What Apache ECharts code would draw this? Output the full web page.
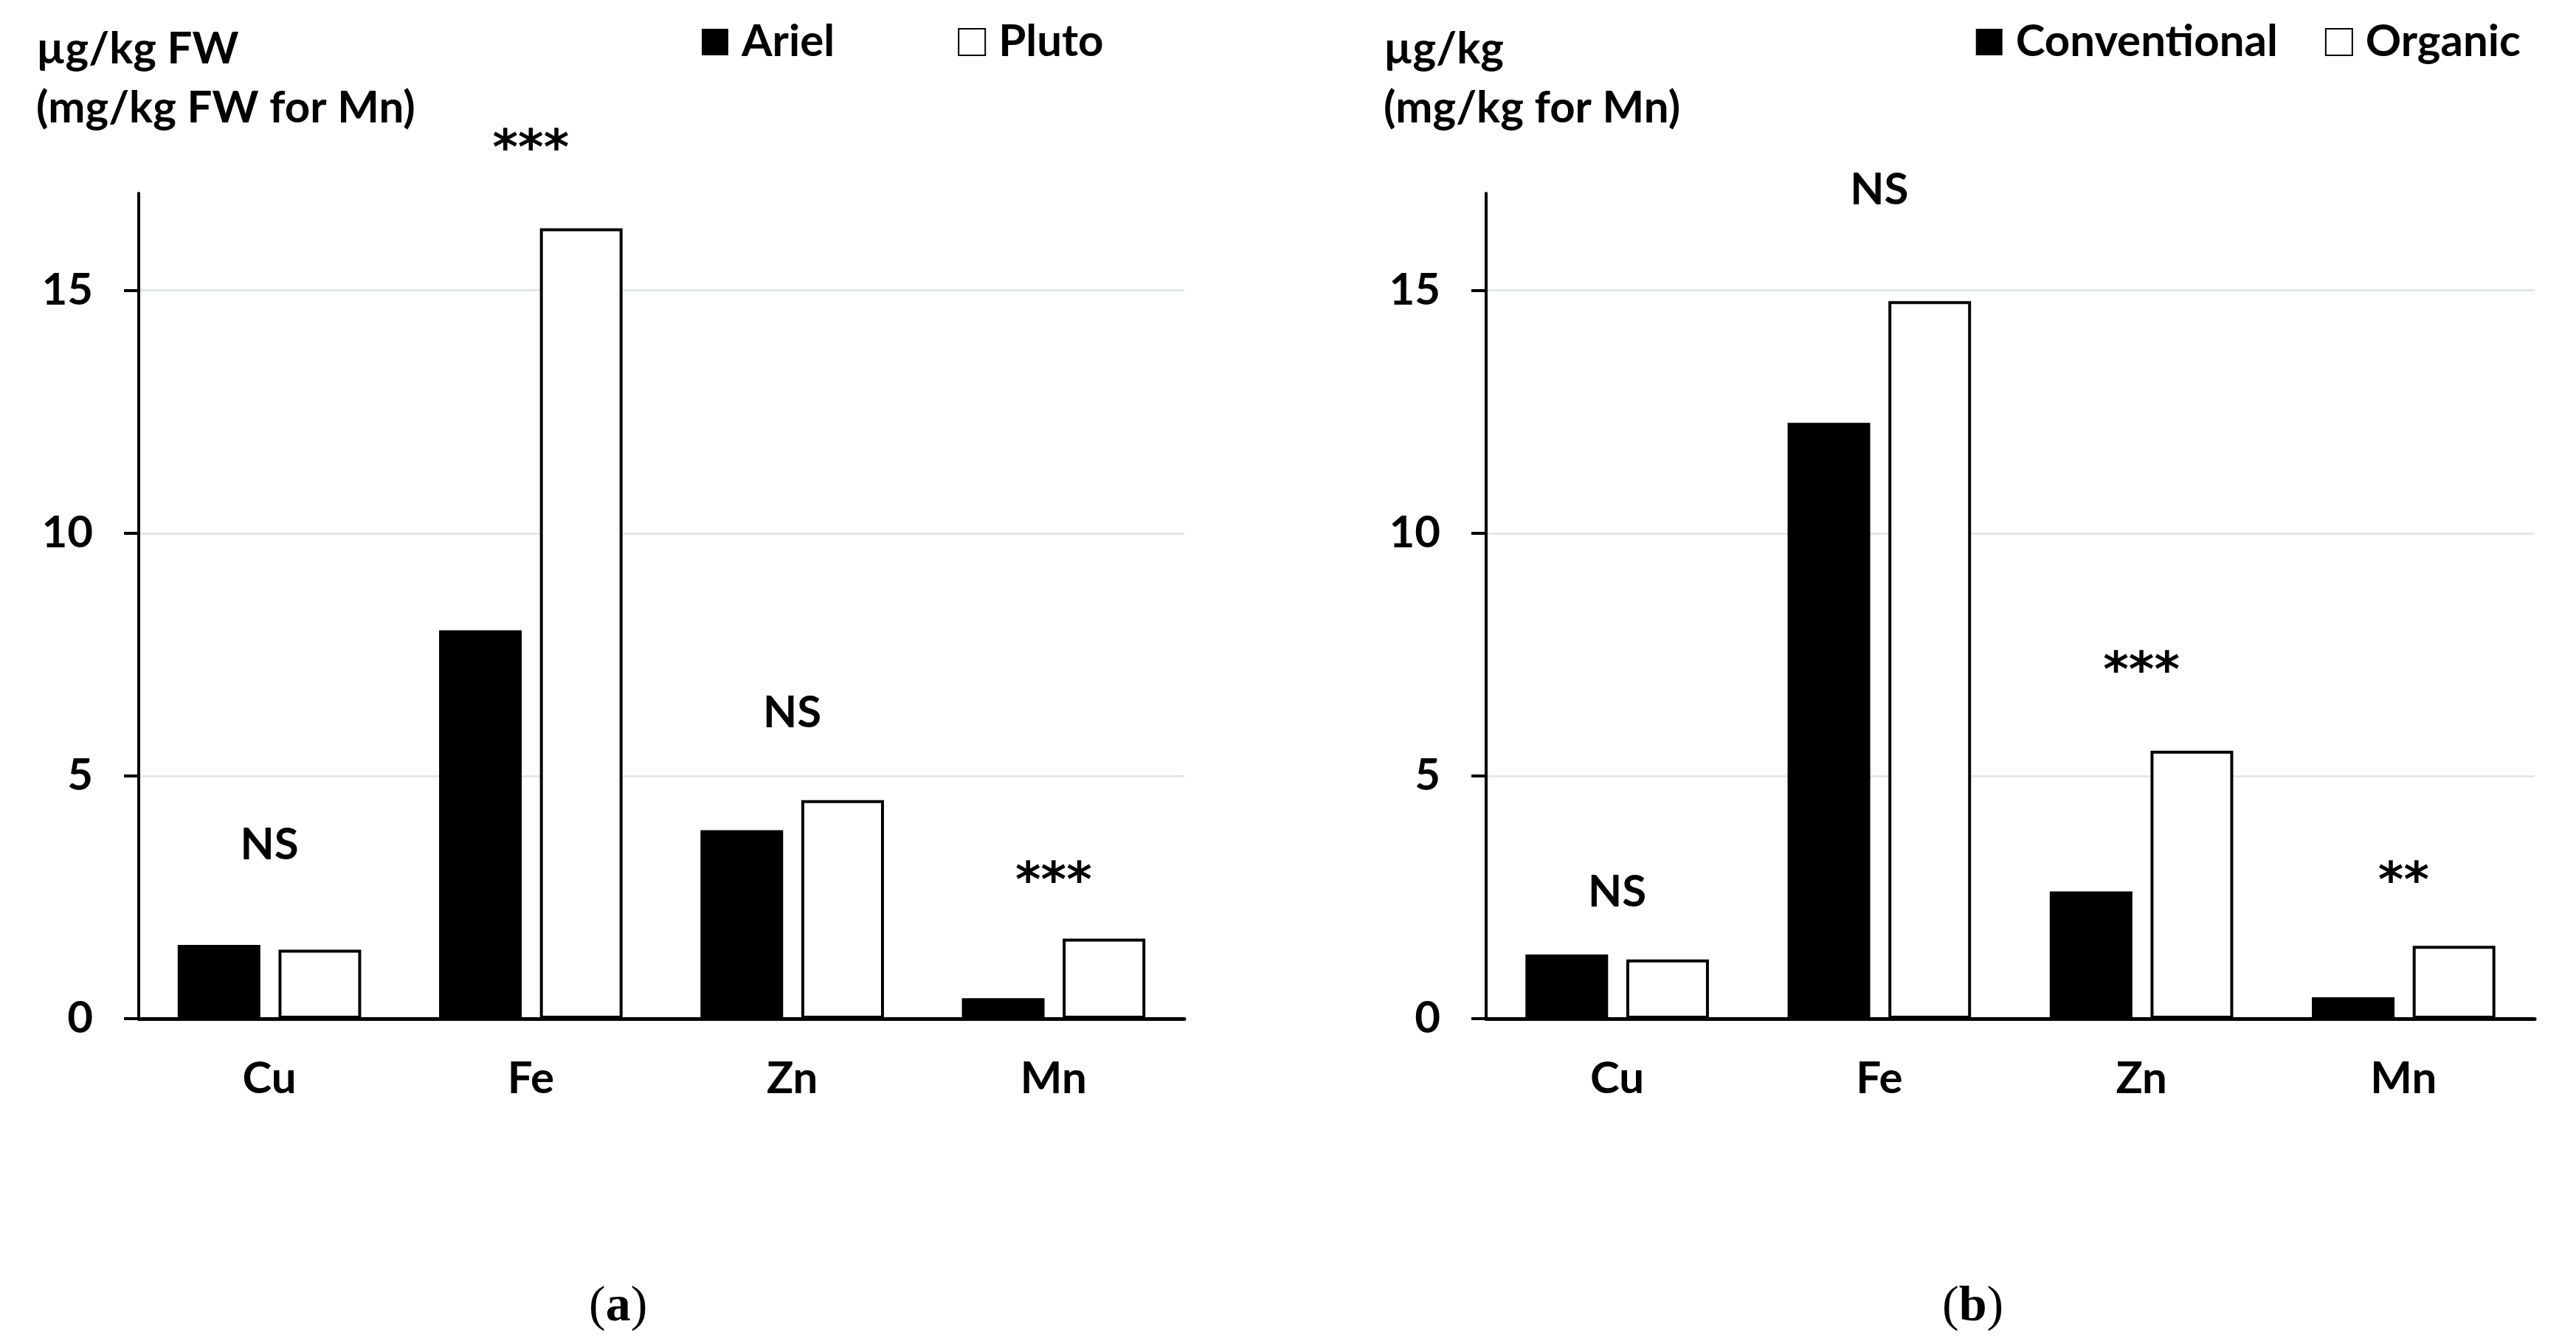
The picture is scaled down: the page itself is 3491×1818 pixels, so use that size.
<!DOCTYPE html>
<html>
<head>
<meta charset="utf-8">
<script src="https://cdn.jsdelivr.net/npm/echarts@6/dist/echarts.min.js"></script>
<style>
  html, body { margin: 0; padding: 0; background: #fff; }
  #chart { width: 3491px; height: 1818px; }
</style>
</head>
<body>
<div id="chart"></div>
<script>
// data
const elements = ['Cu', 'Fe', 'Zn', 'Mn'];
const yTicks = [0, 5, 10, 15];

// panel (a): cultivars
const ariel = [1.52, 8.0, 3.88, 0.42];
const pluto = [1.42, 16.28, 4.5, 1.65];
const sigA = ['NS', '***', 'NS', '***'];
const sigLevelA = [3.58, 17.7, 6.3, 2.62];

// panel (b): farming system
const conventional = [1.32, 12.27, 2.62, 0.44];
const organic = [1.22, 14.78, 5.52, 1.5];
const sigB = ['NS', 'NS', '***', '**'];
const sigLevelB = [2.6, 17.06, 6.95, 2.62];

const FONT = 'Lato, Carlito, Calibri, sans-serif';
const FS = 60;
const chart = echarts.init(document.getElementById('chart'));

const grids = [
  { left: 188, right: 3491 - 1605, top: 262, bottom: 1818 - 1381 },
  { left: 2014, right: 3491 - 3435, top: 262, bottom: 1818 - 1381 }
];

const makeX = (gi) => ({
  type: 'category',
  gridIndex: gi,
  data: elements,
  axisLine: { lineStyle: { color: '#000', width: 5 } },
  axisTick: { show: false },
  axisLabel: { color: '#000', fontSize: FS, fontWeight: 'bold', fontFamily: FONT, margin: 52 }
});

const makeY = (gi) => ({
  type: 'value',
  gridIndex: gi,
  min: 0,
  max: 17,
  interval: 5,
  axisLine: { show: true, lineStyle: { color: '#000', width: 4 } },
  axisTick: { show: true, length: 20, customValues: yTicks, lineStyle: { color: '#000', width: 4 } },
  axisLabel: { color: '#000', fontSize: FS, fontWeight: 'bold', fontFamily: FONT, margin: 62, customValues: yTicks },
  splitLine: { show: true, lineStyle: { color: ['#e4e6ec', '#e4e6ec', '#e4e6ec', '#e4e6ec', 'rgba(0,0,0,0)'], width: 3 } }
});

const darkBar = (name, data, gi) => ({
  name: name, type: 'bar', data: data,
  xAxisIndex: gi, yAxisIndex: gi,
  barWidth: 112, barGap: '22%',
  itemStyle: { color: '#000' }
});

const lightBar = (name, data, gi) => ({
  name: name, type: 'bar', data: data,
  xAxisIndex: gi, yAxisIndex: gi,
  barWidth: 112, barGap: '22%',
  itemStyle: { color: '#fff', borderColor: '#000', borderWidth: 4 }
});

const sigSeries = (labels, levels, gi) => ({
  type: 'scatter',
  xAxisIndex: gi, yAxisIndex: gi,
  symbolSize: 0,
  clip: false,
  silent: true,
  itemStyle: { opacity: 1 },
  data: levels.map((v, i) => [elements[i], v]),
  label: {
    show: true,
    position: 'inside',
    opacity: 1,
    formatter: (p) => {
      const s = labels[p.dataIndex];
      return s.indexOf('*') >= 0 ? '{star|' + s + '}' : s;
    },
    color: '#000',
    fontSize: FS,
    fontWeight: 'bold',
    fontFamily: FONT,
    rich: {
      star: { color: '#000', fontSize: 66, fontWeight: 'bold', fontFamily: 'DejaVu Sans', padding: [0, 0, 22, 0] }
    }
  }
});

const legendBase = {
  icon: 'rect',
  itemWidth: 36,
  itemHeight: 36,
  top: 22,
  textStyle: { color: '#000', fontSize: FS, fontWeight: 'bold', fontFamily: FONT, padding: [0, 0, 0, 13] }
};

chart.setOption({
  backgroundColor: '#fff',
  animation: false,
  title: [
    {
      text: 'µg/kg FW\n(mg/kg FW for Mn)',
      left: 44, top: 22,
      textStyle: { color: '#000', fontSize: FS, fontWeight: 'bold', fontFamily: FONT, lineHeight: 80 }
    },
    {
      text: 'µg/kg\n(mg/kg for Mn)',
      left: 1870, top: 22,
      textStyle: { color: '#000', fontSize: FS, fontWeight: 'bold', fontFamily: FONT, lineHeight: 80 }
    }
  ],
  legend: [
    Object.assign({}, legendBase, { data: ['Ariel', 'Pluto'], left: 946, itemGap: 167 }),
    Object.assign({}, legendBase, { data: ['Conventional', 'Organic'], right: 70, itemGap: 64 })
  ],
  grid: grids,
  xAxis: [makeX(0), makeX(1)],
  yAxis: [makeY(0), makeY(1)],
  series: [
    darkBar('Ariel', ariel, 0),
    lightBar('Pluto', pluto, 0),
    sigSeries(sigA, sigLevelA, 0),
    darkBar('Conventional', conventional, 1),
    lightBar('Organic', organic, 1),
    sigSeries(sigB, sigLevelB, 1)
  ],
  graphic: [
    {
      type: 'text', left: 798, top: 1738,
      style: {
        text: '({b|a})',
        font: '68px "Liberation Serif", "Times New Roman", serif',
        fill: '#000',
        rich: { b: { fontWeight: 'bold', fontSize: 68, fontFamily: 'Liberation Serif' } }
      }
    },
    {
      type: 'text', left: 2632, top: 1738,
      style: {
        text: '({b|b})',
        font: '68px "Liberation Serif", "Times New Roman", serif',
        fill: '#000',
        rich: { b: { fontWeight: 'bold', fontSize: 68, fontFamily: 'Liberation Serif' } }
      }
    }
  ]
});
</script>
</body>
</html>
